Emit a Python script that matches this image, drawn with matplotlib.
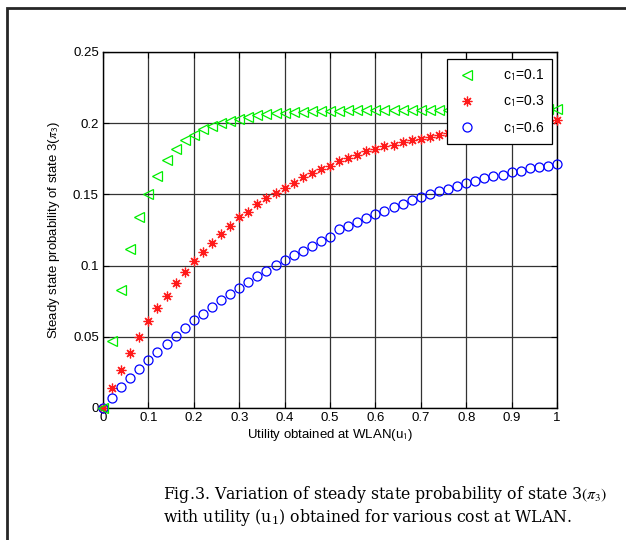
import numpy as np
import matplotlib.pyplot as plt
from matplotlib.patches import Rectangle

plt.rcParams['font.family'] = ['Liberation Sans', 'DejaVu Sans']
plt.rcParams['mathtext.fontset'] = 'stix'

u1 = np.arange(51) * 0.02

pi3_c01 = [0, 0.047, 0.083, 0.112, 0.134, 0.150, 0.163, 0.174, 0.182, 0.188,
           0.192, 0.1957, 0.198, 0.200, 0.2017, 0.203, 0.2045, 0.2055, 0.2063, 0.2069,
           0.2074, 0.2078, 0.2081, 0.2084, 0.2086, 0.2088, 0.2089, 0.2090, 0.2091, 0.2092,
           0.2092, 0.2093, 0.2093, 0.2094, 0.2094, 0.2094, 0.2095, 0.2095, 0.2095, 0.2095,
           0.2096, 0.2096, 0.2096, 0.2096, 0.2096, 0.2097, 0.2097, 0.2097, 0.2097, 0.2097,
           0.2098]
pi3_c03 = [0, 0.0143, 0.0269, 0.0386, 0.0496, 0.0608, 0.0699, 0.0788, 0.0877, 0.0956,
           0.1029, 0.1092, 0.1157, 0.1223, 0.128, 0.1339, 0.1378, 0.1431, 0.1476, 0.1508,
           0.1548, 0.1583, 0.162, 0.165, 0.168, 0.170, 0.1735, 0.1756, 0.178, 0.1806,
           0.182, 0.1837, 0.185, 0.1868, 0.1884, 0.1892, 0.1905, 0.1919, 0.1928, 0.1937,
           0.1946, 0.1955, 0.1963, 0.1971, 0.1979, 0.1986, 0.1993, 0.2000, 0.2006, 0.2012,
           0.2019]
pi3_c06 = [0, 0.007, 0.0145, 0.0213, 0.0271, 0.0334, 0.0395, 0.0449, 0.0505, 0.0561,
           0.0615, 0.0662, 0.0706, 0.076, 0.0804, 0.0846, 0.0886, 0.0926, 0.0964, 0.1006,
           0.1041, 0.1073, 0.1106, 0.1139, 0.1171, 0.1204, 0.1255, 0.128, 0.1306, 0.1337,
           0.136, 0.1386, 0.1411, 0.1435, 0.1458, 0.148, 0.150, 0.1523, 0.1541, 0.1557,
           0.1578, 0.1597, 0.1613, 0.1627, 0.1639, 0.1655, 0.1665, 0.1683, 0.1695, 0.1702,
           0.1714]

fig = plt.figure(figsize=(6.26, 5.4), dpi=100)

# outer frame of the figure box
fig.patches.append(Rectangle((7 / 626, -0.1), 1.2, 1 - 8 / 540 + 0.1,
                             transform=fig.transFigure, fill=False,
                             edgecolor='0.15', linewidth=2))

ax = fig.add_axes([103 / 626, 132 / 540, 454 / 626, 356 / 540])
ax.plot(u1, pi3_c03, linestyle='none', marker=(8, 2, 0), markersize=7,
        markeredgecolor='#ff1a1a', markeredgewidth=0.9, color='#ff1a1a',
        label='c$_{\\mathsf{1}}$=0.3', clip_on=False, zorder=3)
ax.plot(u1, pi3_c06, linestyle='none', marker='o', markersize=6.5,
        markerfacecolor='none', markeredgecolor='#0000ff', markeredgewidth=0.9,
        label='c$_{\\mathsf{1}}$=0.6', clip_on=False, zorder=3)
ax.plot(u1, pi3_c01, linestyle='none', marker='<', markersize=7,
        markerfacecolor='none', markeredgecolor='#00ee00', markeredgewidth=0.9,
        label='c$_{\\mathsf{1}}$=0.1', clip_on=False, zorder=3)

ax.set_xlim(0, 1)
ax.set_ylim(0, 0.25)
ax.set_xticks(np.arange(0, 1.01, 0.1))
ax.set_xticklabels(['0', '0.1', '0.2', '0.3', '0.4', '0.5', '0.6', '0.7', '0.8', '0.9', '1'])
ax.set_yticks([0, 0.05, 0.1, 0.15, 0.2, 0.25])
ax.set_yticklabels(['0', '0.05', '0.1', '0.15', '0.2', '0.25'])
ax.tick_params(direction='in', top=True, right=True, labelsize=9.5, length=4, width=0.8,
               pad=3)
ax.grid(True, color='0.2', linewidth=0.9)
for s in ax.spines.values():
    s.set_linewidth(1.0)

ax.set_xlabel('Utility obtained at WLAN(u$_{\\mathsf{1}}$)', fontsize=9.5, labelpad=2)
ax.set_ylabel('Steady state probability of state 3($\\pi_{\\mathsf{3}}$)', fontsize=9.5,
              labelpad=8)

handles, labels = ax.get_legend_handles_labels()
order = [2, 0, 1]
leg = ax.legend([handles[i] for i in order], [labels[i] for i in order],
                loc='upper right', bbox_to_anchor=(0.99, 0.98), fontsize=10,
                frameon=True, fancybox=False, edgecolor='k', framealpha=1,
                handletextpad=1.7, borderpad=0.6, labelspacing=0.75,
                handlelength=1.7, borderaxespad=0)
leg.get_frame().set_linewidth(0.9)

fig.text(163 / 626, 1 - 499 / 540,
         'Fig.3. Variation of steady state probability of state 3$(\\pi_3)$',
         fontsize=11.3, family=['DejaVu Serif'], ha='left', va='baseline')
fig.text(163 / 626, 1 - 522 / 540,
         'with utility (u$\\mathregular{_1}$) obtained for various cost at WLAN.',
         fontsize=11.3, family=['DejaVu Serif'], ha='left', va='baseline')

fig.savefig('out.png', dpi=100)
